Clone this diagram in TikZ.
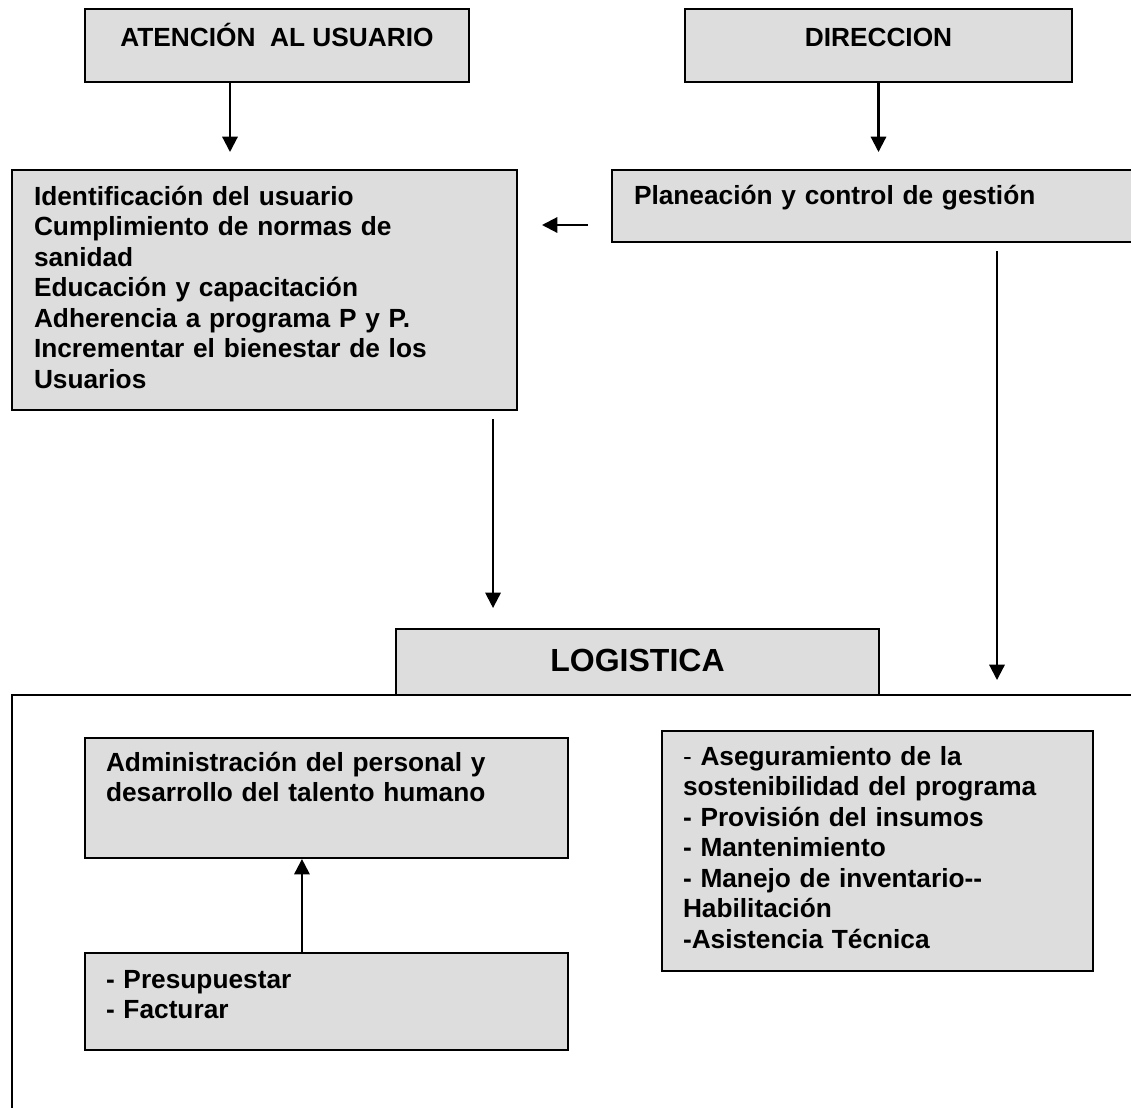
\documentclass[tikz,border=0pt]{standalone}
\usepackage{fontspec}
\setmainfont{Liberation Sans}
\usetikzlibrary{arrows.meta}
\definecolor{boxgray}{RGB}{221,221,221}
\tikzset{
block/.style = {draw, fill=boxgray, rectangle, line width=1.5pt, anchor=north west, inner sep=0pt, font=\fontsize{19.7}{22.9}\selectfont\bfseries},
headbox/.style = {block, align=center},
listbox/.style = {block, align=left, inner xsep=16.5pt},
framebox/.style = {draw, rectangle, line width=1.2pt, anchor=north west, inner sep=0pt},
link/.style = {->, line width=1.6pt}
}

\begin{document}
\begin{tikzpicture}[x=0.75pt, y=-0.75pt, >={Triangle[length=11.5pt,width=11.5pt]}]
    \useasboundingbox (0,0) rectangle (1131,1107);
    \clip (0,0) rectangle (1131,1107);

    \node[headbox, minimum width=288pt, text height=27.75pt, text depth=27pt] (atencion) at (84,8) {ATENCIÓN~ AL USUARIO};
    \node[headbox, minimum width=290.25pt, text height=27.75pt, text depth=27pt] (direccion) at (684,8) {DIRECCION};

    \node[listbox, text width=345.75pt, text height=26.25pt, text depth=153.75pt] (usuario) at (11,169) {Identificación del usuario\\ Cumplimiento de normas de\\ sanidad\\ Educación y capacitación\\ Adherencia a programa P y P.\\ Incrementar el bienestar de los\\ Usuarios};
    \node[listbox, text width=364.5pt, text height=25.5pt, text depth=28.5pt] (planeacion) at (611,169) {Planeación y control de gestión};

    \node[framebox, minimum width=847.5pt, minimum height=317.25pt] (marco) at (11,694) {};
    \node[headbox, minimum width=362.25pt, text height=31.5pt, text depth=18pt, font=\fontsize{24}{28}\selectfont\bfseries] (logistica) at (395,628) {LOGISTICA};

    \node[listbox, inner xsep=15.75pt, text width=330.75pt, text height=24.75pt, text depth=65.25pt] (personal) at (84,737) {Administración del personal y\\ desarrollo del talento humano};
    \node[listbox, inner xsep=15.75pt, text width=330.75pt, text height=26.25pt, text depth=46.5pt] (presupuesto) at (84,952) {- Presupuestar\\ - Facturar};
    \node[listbox, inner xsep=15.75pt, text width=291.75pt, text height=25.5pt, text depth=154.5pt] (sostenible) at (661,730) {\textmd{-} Aseguramiento de la\\ sostenibilidad del programa\\ - Provisión del insumos\\ - Mantenimiento\\ - Manejo de inventario-{}-\\ Habilitación\\ -Asistencia Técnica};

    \draw[link, shorten >=12.75pt] ([xshift=-35.25pt]atencion.south) -- ([xshift=-35.25pt]atencion.south |- usuario.north);
    \draw[link, shorten >=12.75pt] (direccion.south) -- (direccion.south |- planeacion.north);
    \draw[link, shorten <=17.25pt, shorten >=18pt] ([yshift=-14.25pt]planeacion.west) -- ([yshift=-14.25pt]planeacion.west -| usuario.east);
    \draw[link, shorten <=6pt, shorten >=15pt] ([xshift=171.4pt]usuario.south) -- ([xshift=171.4pt]usuario.south |- logistica.north);
    \draw[link, shorten <=6pt, shorten >=10.5pt] ([xshift=289.5pt]planeacion.south west) -- ([xshift=289.5pt]planeacion.south west |- marco.north);
    \draw[link] ([xshift=-18.4pt]presupuesto.north) -- ([xshift=-18.4pt]presupuesto.north |- personal.south);
\end{tikzpicture}
\end{document}
